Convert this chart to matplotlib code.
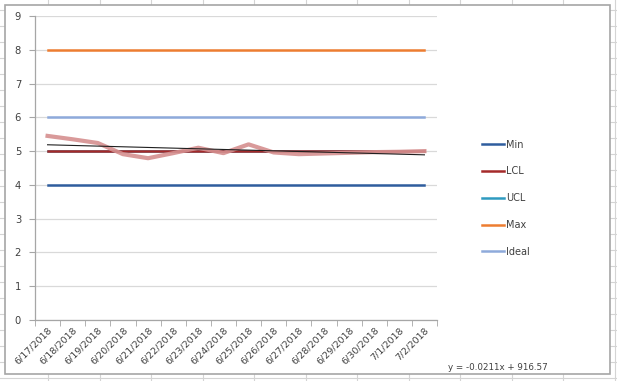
import numpy as np
import matplotlib
matplotlib.use("Agg")
import matplotlib.pyplot as plt
from matplotlib.patches import Rectangle

# data
dates = ["6/17/2018", "6/18/2018", "6/19/2018", "6/20/2018", "6/21/2018", "6/22/2018",
         "6/23/2018", "6/24/2018", "6/25/2018", "6/26/2018", "6/27/2018", "6/28/2018",
         "6/29/2018", "6/30/2018", "7/1/2018", "7/2/2018"]
measured = [5.45, 5.35, 5.24, 4.91, 4.79, 4.94, 5.10, 4.94, 5.20, 4.96, 4.91, 4.93,
            4.95, 4.97, 4.98, 5.00]
min_val = [4] * 16
lcl_val = [5] * 16
ucl_val = [5] * 16
max_val = [8] * 16
ideal_val = [6] * 16
trend_label = "y = -0.0211x + 916.57"

W, H = 617, 381
fig = plt.figure(figsize=(W / 100, H / 100), dpi=100)
fig.patch.set_facecolor("white")

# spreadsheet cells behind the chart
bg = fig.add_axes([0, 0, 1, 1])
bg.set_xlim(0, W)
bg.set_ylim(H, 0)
bg.axis("off")
for yy in np.arange(10, H, 16):
    bg.axhline(yy, color="#d4d4d4", lw=0.8)
for xx in np.arange(48, W, 51.5):
    bg.axvline(xx, color="#d4d4d4", lw=0.8)
bg.add_patch(Rectangle((5, 5), 605, 369, facecolor="white", edgecolor="#a6a6a6", lw=1.2, zorder=3))
bg.text(498, 367, trend_label, fontsize=6.3, ha="center", va="center", color="#404040", zorder=4)

# plot area
ax = fig.add_axes([35 / W, (H - 320) / H, 402 / W, 304 / H])
ax.set_facecolor("white")
x = np.arange(len(dates))

ax.plot(x, ucl_val, color="#2e9ac0", lw=1.8, label="UCL", zorder=3)
ax.plot(x, min_val, color="#2f5d9e", lw=1.8, label="Min", zorder=3)
ax.plot(x, lcl_val, color="#a52a2a", lw=1.8, label="LCL", zorder=4)
ax.plot(x, max_val, color="#ed7d31", lw=1.8, label="Max", zorder=3)
ax.plot(x, ideal_val, color="#8eaadb", lw=1.8, label="Ideal", zorder=3)
ax.plot(x, measured, color="#d58f8f", lw=3, alpha=0.9, zorder=5)

coef = np.polyfit(x, measured, 1)
ax.plot(x, np.polyval(coef, x), color="#202020", lw=0.8, zorder=6)

ax.set_xlim(-0.5, len(dates) - 0.5)
ax.set_ylim(0, 9)
ax.set_yticks(range(10))
ax.yaxis.grid(True, color="#d9d9d9", lw=0.9)
ax.set_axisbelow(True)
for s in ["top", "right"]:
    ax.spines[s].set_visible(False)
for s in ["left", "bottom"]:
    ax.spines[s].set_color("#a6a6a6")
    ax.spines[s].set_linewidth(0.9)

ax.set_xticks(x)
ax.set_xticklabels(dates, rotation=45, ha="right", rotation_mode="anchor", fontsize=6.8, color="#404040")
ax.set_xticks(np.arange(-0.5, len(dates)), minor=True)
ax.tick_params(axis="x", which="major", length=0, pad=4)
ax.tick_params(axis="x", which="minor", length=4, color="#a6a6a6")
ax.tick_params(axis="y", length=4, color="#a6a6a6", labelsize=7.2, labelcolor="#404040", pad=6)

handles, labels = ax.get_legend_handles_labels()
order = ["Min", "LCL", "UCL", "Max", "Ideal"]
hl = dict(zip(labels, handles))
fig.legend([hl[k] for k in order], order, loc="upper left", bbox_to_anchor=(473 / W, 1 - 131 / H),
           frameon=False, fontsize=7, labelspacing=1.72, handlelength=2.3, handletextpad=0.2,
           labelcolor="#404040")

fig.savefig("out.png", dpi=100, facecolor="white")
